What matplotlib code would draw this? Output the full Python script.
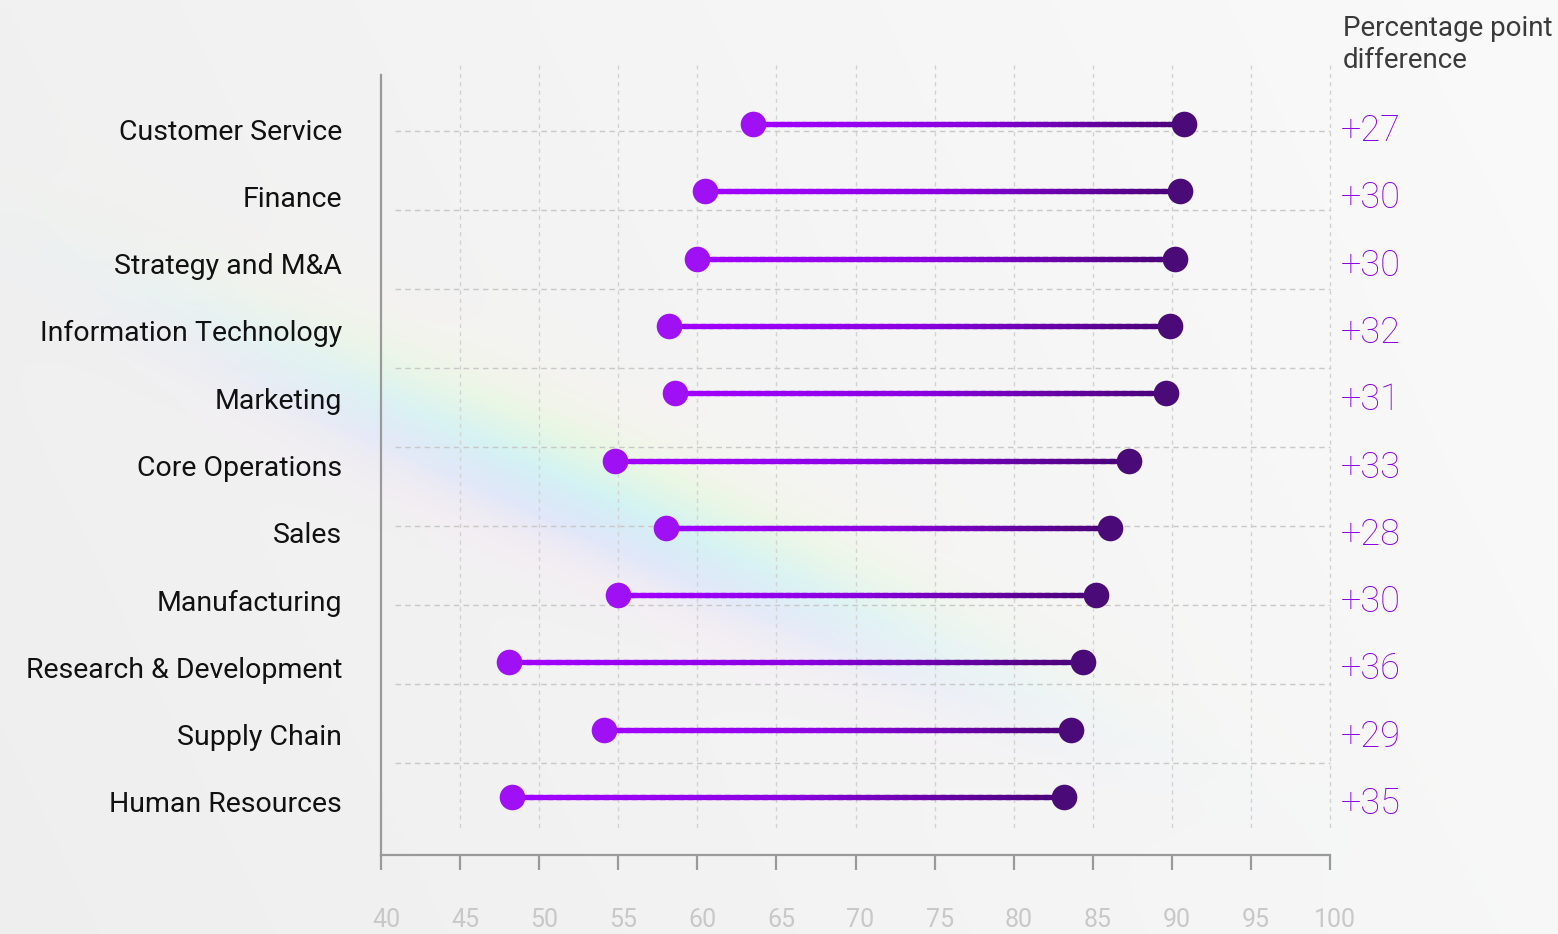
import numpy as np
import matplotlib
matplotlib.use('Agg')
import matplotlib.pyplot as plt
from matplotlib.colors import LinearSegmentedColormap
from matplotlib.collections import LineCollection
import matplotlib.transforms as mtransforms

# data
functions = ['Customer Service', 'Finance', 'Strategy and M&A', 'Information Technology',
             'Marketing', 'Core Operations', 'Sales', 'Manufacturing',
             'Research & Development', 'Supply Chain', 'Human Resources']
before = [63.5, 60.5, 60.0, 58.2, 58.6, 54.8, 58.0, 55.0, 48.1, 54.1, 48.3]
after = [90.8, 90.5, 90.2, 89.9, 89.6, 87.3, 86.1, 85.2, 84.4, 83.6, 83.2]
diff_labels = ['+27', '+30', '+30', '+32', '+31', '+33', '+28', '+30', '+36', '+29', '+35']
xticks = [40, 45, 50, 55, 60, 65, 70, 75, 80, 85, 90, 95, 100]

plt.rcParams['font.family'] = ['Roboto', 'DejaVu Sans']

W, H = 1558, 934
fig = plt.figure(figsize=(W / 100, H / 100), dpi=100)

# soft background with a faint rainbow streak
yy, xx = np.mgrid[0:H, 0:W].astype(float)
base = np.ones((H, W, 3))
shade = 0.935 + 0.035 * (xx / W) + 0.01 * (1 - yy / H)
base *= shade[..., None]
p0 = np.array([60.0, 250.0])
p1 = np.array([1350.0, 830.0])
u = (p1 - p0) / np.linalg.norm(p1 - p0)
t = ((xx - p0[0]) * u[0] + (yy - p0[1]) * u[1]) / np.linalg.norm(p1 - p0)
d = (xx - p0[0]) * u[1] - (yy - p0[1]) * u[0]
rainbow = LinearSegmentedColormap.from_list(
    'rb', ['#f3d6f2', '#cfdcff', '#c9f3f3', '#e2fbd6', '#fbf6d8'])
band = rainbow(np.clip((d + 90) / 180, 0, 1))[..., :3]
alpha = np.exp(-(d / 70) ** 2) * np.exp(-((t - 0.42) / 0.28) ** 2) * 0.75
bg = base * (1 - alpha[..., None]) + band * alpha[..., None]
bax = fig.add_axes([0, 0, 1, 1])
bax.imshow(bg, aspect='auto', extent=[0, W, H, 0])
bax.axis('off')

# main axes: x 40..100 on pixels 381..1330, rows at 124 + i*67.3
left, right, bottom, top = 381, 1330, 855, 75
ax = fig.add_axes([left / W, 1 - bottom / H, (right - left) / W, (bottom - top) / H])
ax.patch.set_alpha(0)
row_px = 67.3
y0 = 124
ax.set_xlim(40, 100)
ax.set_ylim((bottom - y0) / row_px, (top - y0) / row_px)
ypos = np.arange(len(functions))

# dashed grid (square cells)
grid_kw = dict(color='#c8c8c8', lw=1.0, ls=(0, (4, 3)), zorder=1, clip_on=False)
for k in range(9):
    gy = (131 + k * 79 - y0) / row_px
    ax.plot([40.9, 100], [gy, gy], **grid_kw)
for gx in xticks[1:]:
    ax.plot([gx, gx], [(65 - y0) / row_px, (828 - y0) / row_px],
            color='#d2d2d2', lw=1.0, ls=(0, (3, 3)), zorder=1, clip_on=False)

# gradient dumbbells
line_cmap = LinearSegmentedColormap.from_list('ln', ['#a100ff', '#8a00e0', '#4b0078'])
for i in range(len(functions)):
    xs = np.linspace(before[i], after[i], 60)
    segs = [[(xs[j], ypos[i]), (xs[j + 1], ypos[i])] for j in range(len(xs) - 1)]
    lc = LineCollection(segs, colors=line_cmap(np.linspace(0, 1, len(segs))),
                        linewidths=3.8, capstyle='projecting', zorder=3)
    ax.add_collection(lc)
ax.scatter(before, ypos, s=340, color='#a010f5', zorder=4, lw=0)
ax.scatter(after, ypos, s=340, color='#4a0a78', zorder=4, lw=0)

# spines and ticks
for s in ['top', 'right']:
    ax.spines[s].set_visible(False)
for s in ['left', 'bottom']:
    ax.spines[s].set_color('#9a9a9a')
    ax.spines[s].set_linewidth(1.6)
ax.set_yticks([])
ax.set_xticks(xticks)
ax.set_xticklabels([str(v) for v in xticks])
ax.tick_params(axis='x', length=11, width=1.6, color='#9a9a9a', pad=27,
               labelsize=18, labelcolor='#c8c8c8')
shift = mtransforms.ScaledTranslation(5 / 100, 0, fig.dpi_scale_trans)
for lbl in ax.get_xticklabels():
    lbl.set_transform(lbl.get_transform() + shift)

# category labels
for i, name in enumerate(functions):
    fig.text(342 / W, 1 - (y0 + 8 + i * row_px) / H, name, ha='right', va='center',
             fontsize=20.5, color='#111111')

# difference labels
for i, lab in enumerate(diff_labels):
    fig.text(1341 / W, 1 - (y0 + 7 + i * row_px) / H, lab, ha='left', va='center',
             fontsize=26, color='#8a00e0', fontweight='light')

fig.text(1343 / W, 1 - 15 / H, 'Percentage point\ndifference', ha='left', va='top',
         fontsize=20, color='#3a3a3a', linespacing=1.25)

fig.savefig('out.png', dpi=100)
